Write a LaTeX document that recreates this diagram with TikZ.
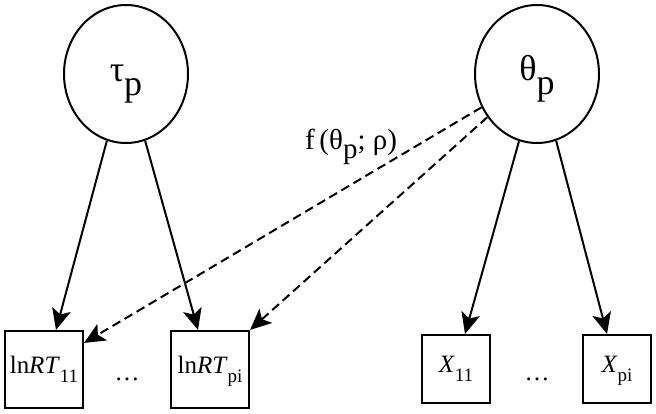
\documentclass[tikz,border=0pt]{standalone}
\usepackage{fontspec}
\setmainfont{Liberation Serif}
\usetikzlibrary{arrows.meta,shapes.geometric}
\newcommand\lowsub[2]{\raisebox{-#1}{#2}}
\begin{document}
\begin{tikzpicture}[x=1pt,y=1pt,
  latent/.style={draw,ellipse,line width=2pt,minimum width=124pt,minimum height=138pt,inner sep=0pt,
    font=\fontsize{36}{36}\selectfont},
  obsA/.style={draw,rectangle,line width=2.2pt,minimum width=78pt,minimum height=77pt,inner sep=0pt,
    text height=15pt,text depth=8pt,font=\fontsize{25}{25}\selectfont},
  obsB/.style={draw,rectangle,line width=2.2pt,minimum width=68pt,minimum height=68pt,inner sep=0pt,
    text height=14pt,text depth=8pt,font=\fontsize{25}{25}\selectfont},
  arr/.style={line width=2pt,-{Stealth[length=21pt,width=19pt,inset=5pt]}},
  darr/.style={arr,dash pattern=on 9pt off 5pt},
  dots/.style={anchor=base,inner sep=0pt,font=\fontsize{25}{25}\selectfont},
  lbl/.style={anchor=base,inner sep=0pt,font=\fontsize{29}{29}\selectfont}]
\useasboundingbox (0,0) rectangle (656,413);
\node[latent,text height=27pt,text depth=11pt] (tau) at (126,339) {τ\lowsub{14pt}{p}};
\node[latent,text height=25pt,text depth=11pt] (theta) at (537,339) {θ\lowsub{14pt}{p}};
\node[obsA] (b1) at (44,43.5) {ln\textit{RT}\lowsub{9pt}{\fontsize{19}{19}\selectfont 11}};
\node[obsA] (b2) at (210,43.5) {ln\textit{RT}\lowsub{9pt}{\fontsize{19}{19}\selectfont pi}};
\node[obsB] (b3) at (456,44) {\textit{X}\lowsub{9pt}{\fontsize{19}{19}\selectfont 11}};
\node[obsB] (b4) at (617,44) {\textit{X}\lowsub{9pt}{\fontsize{19}{19}\selectfont pi}};
\node[dots] (d1) at (127,33) {…};
\node[dots] (d2) at (537,33) {…};
\node[lbl] (lab) at (351,263) {f\,(θ\lowsub{9pt}{p}; ρ)};
\draw[arr] (tau.-106) -- ([xshift=12pt]b1.north);
\draw[arr] (tau.-74) -- ([xshift=-12pt]b2.north);
\draw[arr] (theta.-105) -- ([xshift=9pt]b3.north);
\draw[arr] (theta.-74) -- ([xshift=-10pt]b4.north);
\draw[darr] (theta.211) -- ([yshift=-13pt]b1.north east);
\draw[darr] (theta.221) -- (b2.north east);
\end{tikzpicture}
\end{document}
